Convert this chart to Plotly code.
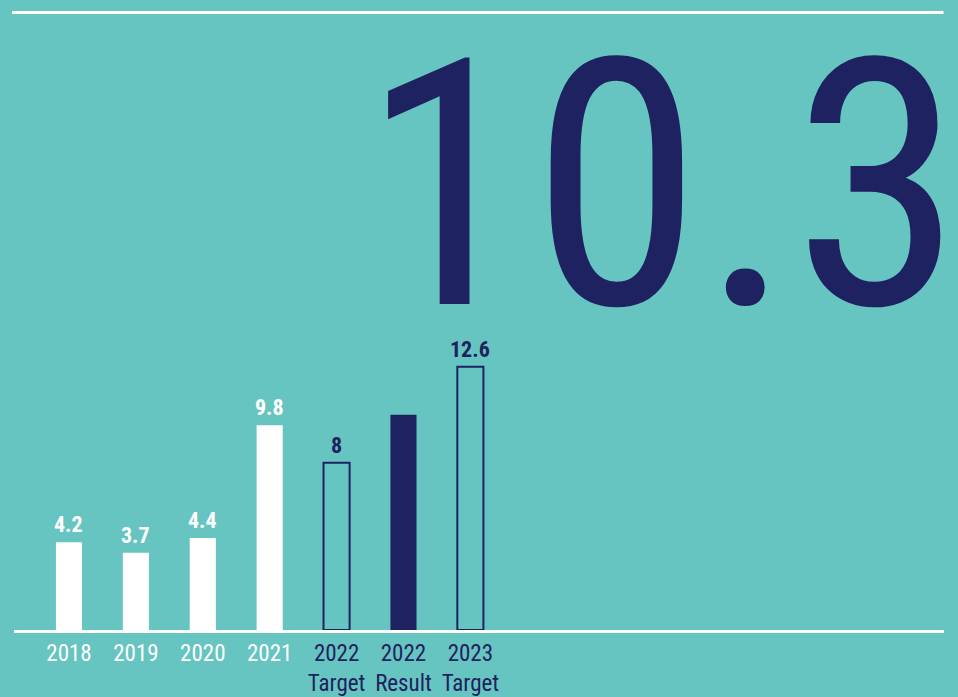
import plotly.graph_objects as go

# ---- data -------------------------------------------------------------
categories = ["2018", "2019", "2020", "2021", "2022 Target", "2022 Result", "2023 Target"]
tick_lines = [["2018"], ["2019"], ["2020"], ["2021"],
              ["2022", "Target"], ["2022", "Result"], ["2023", "Target"]]
values = [4.2, 3.7, 4.4, 9.8, 8.0, 10.3, 12.6]
kinds = ["actual", "actual", "actual", "actual", "target", "result", "target"]
headline_category = "2022 Result"

# ---- styling ----------------------------------------------------------
BG = "#66C5C1"
NAVY = "#1F2260"
WHITE = "#FFFFFF"
FONT = "Roboto Condensed, Liberation Sans Narrow, Roboto, sans-serif"

W, H = 958, 697
M_L, M_R, M_T, M_B = 14, 14, 0, 67
PLOT_W = W - M_L - M_R
PLOT_H = H - M_T - M_B
PX_PER_UNIT = 20.9

style = {
    "actual": dict(fill=WHITE, line=WHITE, lw=0, text=WHITE),
    "target": dict(fill="rgba(0,0,0,0)", line=NAVY, lw=2, text=NAVY),
    "result": dict(fill=NAVY, line=NAVY, lw=0, text=NAVY),
}


def fmt(v):
    return f"{v:g}"


def px_x(px):
    return (px - M_L) / PLOT_W


def px_y(py):
    return (H - M_B - py) / PLOT_H


fig = go.Figure(
    go.Bar(
        x=categories,
        y=values,
        width=0.39,
        marker=dict(
            color=[style[k]["fill"] for k in kinds],
            line=dict(color=[style[k]["line"] for k in kinds],
                      width=[style[k]["lw"] for k in kinds]),
        ),
        hoverinfo="skip",
    )
)

# value labels above every bar except the headline one
# (positioned by category index so year-like names are not read as numbers)
annotations = []
for i, (cat, v, k) in enumerate(zip(categories, values, kinds)):
    if cat == headline_category:
        continue
    annotations.append(dict(
        x=i, y=v, xref="x", yref="y", text=f"<b>{fmt(v)}</b>",
        showarrow=False, yanchor="bottom", yshift=3,
        font=dict(family=FONT, size=22, color=style[k]["text"]),
    ))

# headline figure: the 2022 result value
headline = values[categories.index(headline_category)]
annotations.append(dict(
    x=px_x(359), y=px_y(186), xref="paper", yref="paper",
    text=fmt(headline), showarrow=False, xanchor="left", yanchor="middle",
    font=dict(family=FONT, size=345, color=NAVY),
))

tick_text = []
for lines, k in zip(tick_lines, kinds):
    color = WHITE if k == "actual" else NAVY
    tick_text.append(f"<span style='color:{color}'>" + "<br>".join(lines) + "</span>")

fig.update_layout(
    width=W, height=H, autosize=False,
    margin=dict(l=M_L, r=M_R, t=M_T, b=M_B, pad=0),
    paper_bgcolor=BG, plot_bgcolor=BG,
    showlegend=False,
    annotations=annotations,
    shapes=[dict(type="line", xref="paper", yref="paper",
                 x0=px_x(12), x1=px_x(943.5), y0=px_y(12.5), y1=px_y(12.5),
                 line=dict(color=WHITE, width=3))],
    xaxis=dict(
        type="category", range=[-0.822, 13.08],
        tickmode="array", tickvals=categories, ticktext=tick_text,
        tickfont=dict(family=FONT, size=23, color=WHITE),
        ticks="", showgrid=False, zeroline=False,
        showline=True, linecolor=WHITE, linewidth=3,
    ),
    yaxis=dict(range=[0, PLOT_H / PX_PER_UNIT], visible=False),
)

fig.write_html("out.html")
